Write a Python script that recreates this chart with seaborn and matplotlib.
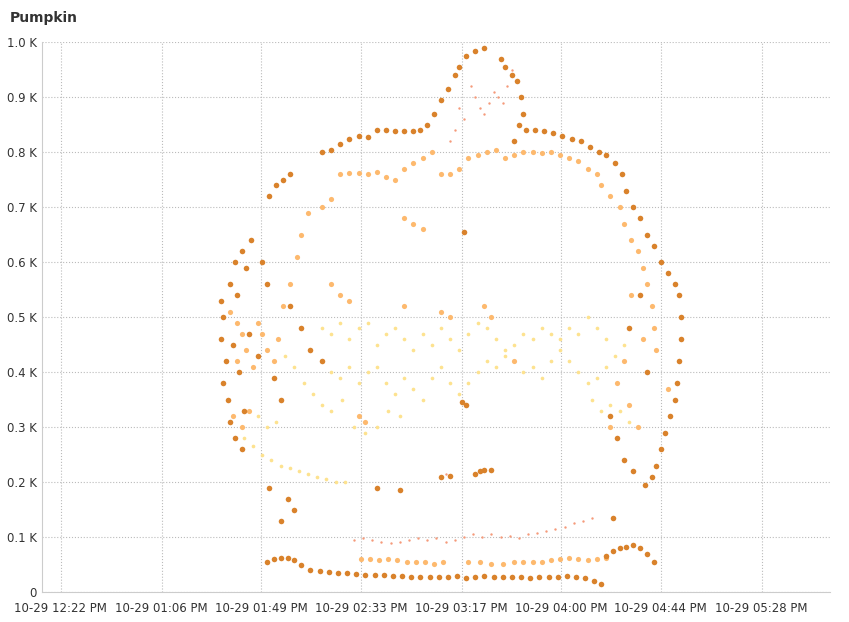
import pandas as pd
import numpy as np
import matplotlib.pyplot as plt
import seaborn as sns

# points as (minutes after 12:00, value)
dark_pts = [(92,530),(93,500),(92,460),(94,420),(93,380),(95,350),(96,310),(98,280),(101,260),(96,560),(98,600),(101,620),(105,640),(103,590),(99,540),(97,450),(100,400),(102,330),(104,470),(108,430),(110,600),(112,560),(115,390),(118,350),(122,520),(127,480),(131,440),(136,420),(113,190),(118,130),(121,170),(124,150),
    (113,720),(116,740),(119,750),(122,760),(136,800),(140,805),(144,815),(148,825),(152,830),(156,828),(160,840),(164,840),(168,838),(172,838),(176,838),(179,840),
    (182,850),(185,870),(188,895),(191,915),(194,940),(196,955),(199,975),(203,985),(207,990),
    (214,970),(216,955),(219,940),(221,930),(223,900),(224,870),(222,850),(220,820),
    (225,840),(229,840),(233,838),(237,835),(241,830),(245,825),(249,820),(253,810),(257,800),(260,795),(264,780),(267,760),(269,730),
    (272,700),(275,680),(278,650),(281,630),(284,600),(287,580),(290,560),(292,540),(293,500),(293,460),(292,420),(291,380),(290,350),(288,320),(286,290),(284,260),(282,230),(280,210),(277,195),(272,220),(268,240),(265,280),(262,320),(275,540),(270,480),(278,400),(263,135),
    (198,655),(197,345),(199,340),(203,215),(205,220),(207,222),(210,222),(188,210),(192,212),(170,185),(160,190),
    (112,55),(115,60),(118,62),(121,62),(124,58),(127,50),(131,40),(135,38),(139,36),(143,35),(147,34),(151,33),(155,32),(159,32),(163,31),(167,30),(171,29),(175,28),(179,28),(183,27),(187,28),(191,28),(195,30),(199,25),(203,28),(207,30),(211,28),(215,27),(219,27),(223,27),(227,26),(231,27),(235,27),(239,28),(243,29),(247,28),(251,25),(255,20),(258,15),(260,65),(263,75),(266,80),(269,82),(272,85),(275,80),(278,70),(281,55)]

light_pts = [(136,700),(140,715),(144,760),(148,762),(152,763),(156,760),(160,765),(164,755),(168,750),(172,770),(176,780),(180,790),(184,800),(188,760),(192,760),(196,770),(200,790),(204,795),(208,800),(212,805),(216,790),(220,795),(224,800),(228,800),(232,798),(236,800),(240,795),(244,790),(248,785),(252,770),(256,760),(258,740),(262,720),(266,700),(268,670),(271,640),(274,620),(276,590),(278,560),(280,520),(281,480),(282,440),
    (96,510),(99,490),(101,470),(103,440),(106,410),(108,490),(110,470),(112,440),(115,420),(117,460),(119,520),(122,560),(125,610),(127,650),(130,690),(140,560),(144,540),(148,530),(152,320),(155,310),(99,420),(97,320),(101,300),(104,330),
    (172,680),(176,670),(180,660),(172,520),(188,510),(192,500),(207,520),(210,500),(220,420),
    (153,60),(157,60),(161,58),(165,60),(169,58),(173,55),(177,55),(181,55),(185,52),(189,55),(200,55),(205,55),(210,52),(215,52),(220,55),(224,55),(228,55),(232,55),(236,58),(240,60),(244,62),(248,60),(252,58),(256,60),(260,62),
    (262,300),(265,380),(268,420),(270,340),(274,300),(271,540),(276,460),(287,370)]

yellow_pts = [(136,480),(140,470),(144,490),(148,460),(152,480),(156,490),(160,450),(164,470),(168,480),(172,460),(176,440),(180,470),(184,450),(188,480),(192,460),(196,440),(200,470),(204,490),(208,480),(212,460),(216,440),(220,450),(224,470),(228,460),(232,480),(236,470),(240,460),(244,480),(248,470),(252,500),(256,480),(260,460),
    (140,400),(144,390),(148,410),(152,380),(156,400),(160,410),(164,380),(168,360),(172,390),(176,370),(180,350),(184,390),(188,410),(192,380),(196,360),(200,380),(204,400),(208,420),(212,410),(216,430),(220,420),(224,400),(228,410),(232,390),(236,420),(240,440),(244,420),(248,400),(252,380),(256,390),(260,410),(264,430),(268,450),
    (120,430),(124,410),(128,380),(132,360),(136,340),(140,330),(145,350),(150,300),(155,290),(160,300),(165,330),(170,320),
    (102,280),(106,265),(110,250),(114,240),(118,230),(122,225),(126,220),(130,215),(134,210),(138,205),(142,200),(146,200),(108,320),(112,300),(116,310),
    (262,340),(266,330),(270,310),(258,330),(254,350)]

salmon_pts = [(201,920),(203,900),(205,880),(207,870),(209,890),(211,910),(213,900),(215,890),(217,920),(219,950),(196,880),(198,860),(194,840),(192,820),
    (150,95),(154,98),(158,95),(162,92),(166,90),(170,92),(174,95),(178,98),(182,95),(186,98),(190,92),(194,95),(198,100),(202,105),(206,100),(210,105),(214,100),(218,102),(222,98),(226,105),(230,108),(234,112),(238,115),(242,118),(246,125),(250,130),(254,135),(190,215)]

tick_minutes = [22, 66, 109.5, 153, 197, 240.5, 284, 328]
tick_labels = ['10-29 12:22 PM', '10-29 01:06 PM', '10-29 01:49 PM', '10-29 02:33 PM',
               '10-29 03:17 PM', '10-29 04:00 PM', '10-29 04:44 PM', '10-29 05:28 PM']

series = {'dark': dark_pts, 'light': light_pts, 'yellow': yellow_pts, 'salmon': salmon_pts}
rows = []
for name, pts in series.items():
    for m, v in pts:
        rows.append({'minute': m, 'value': v, 'series': name})
df = pd.DataFrame(rows)

palette = {'dark': '#d9822b', 'light': '#fdb96e', 'yellow': '#fde28f', 'salmon': '#f59a7a'}
sizes = {'dark': 16, 'light': 14, 'yellow': 7, 'salmon': 3}

sns.set_style('white')
fig = plt.figure(figsize=(8.49, 6.22), dpi=100)
ax = fig.add_axes([0.05, 0.048, 0.928, 0.884])
for name in ['yellow', 'salmon', 'light', 'dark']:
    sub = df[df['series'] == name]
    sns.scatterplot(data=sub, x='minute', y='value', color=palette[name], s=sizes[name],
                    linewidth=0, ax=ax, legend=False)

ax.set_xlim(14, 358)
ax.set_ylim(0, 1000)
ax.set_xticks(tick_minutes)
ax.set_xticklabels(tick_labels, fontsize=8.5, color='#333333')
yt = np.arange(0, 1001, 100)
ax.set_yticks(yt)
ax.set_yticklabels(['0'] + [f'{v/1000:.1f} K' for v in yt[1:]], fontsize=8.5, color='#333333')
ax.grid(True, linestyle=':', color='#bbbbbb', linewidth=0.8)
ax.set_xlabel('')
ax.set_ylabel('')
for s in ['top', 'right']:
    ax.spines[s].set_visible(False)
ax.spines['left'].set_color('#cccccc')
ax.spines['bottom'].set_color('#cccccc')
ax.tick_params(axis='x', length=4, color='#cccccc', pad=3)
ax.tick_params(axis='y', length=0, pad=4)
fig.text(0.012, 0.965, 'Pumpkin', fontsize=10, fontweight='bold', color='#333333')
fig.savefig('out.png', dpi=100)
